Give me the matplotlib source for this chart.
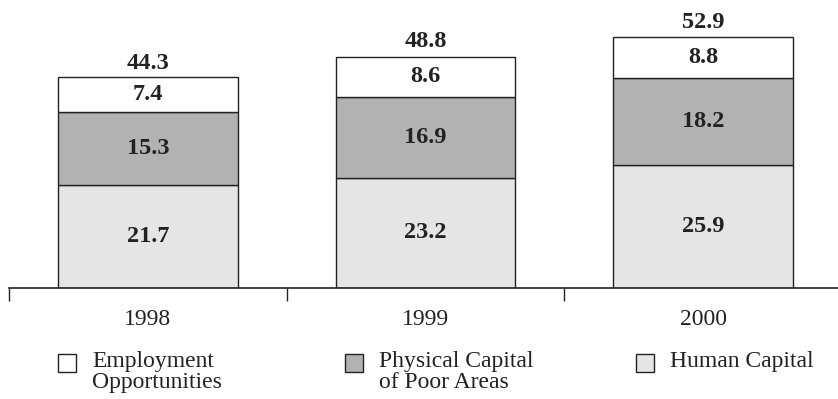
import numpy as np
import matplotlib.pyplot as plt
from matplotlib.patches import Rectangle

plt.rcParams['font.family'] = ['Liberation Serif', 'DejaVu Serif']

years = ['1998', '1999', '2000']
human = [21.7, 23.2, 25.9]
physical = [15.3, 16.9, 18.2]
employment = [7.4, 8.6, 8.8]
totals = [44.3, 48.8, 52.9]

series_names = ['Employment\nOpportunities', 'Physical Capital\nof Poor Areas', 'Human Capital']
colors = ['#ffffff', '#b2b2b2', '#e5e5e5']

fig = plt.figure(figsize=(8.38, 3.99), dpi=100)
ax = fig.add_axes([9 / 838, 111 / 399, 833 / 838, 288 / 399])

x = np.arange(len(years))
w = 0.648
human = np.array(human)
physical = np.array(physical)
employment = np.array(employment)

ax.bar(x, human, w, color=colors[2], edgecolor='#222222', linewidth=1)
ax.bar(x, physical, w, bottom=human, color=colors[1], edgecolor='#222222', linewidth=1)
ax.bar(x, employment, w, bottom=human + physical, color=colors[0], edgecolor='#222222', linewidth=1)

lab = dict(ha='center', va='center', fontsize=17.5, fontweight='bold', color='#222222')
for i in range(len(years)):
    ax.text(x[i], human[i] / 2, f'{human[i]:.1f}', **lab)
    ax.text(x[i], human[i] + physical[i] / 2, f'{physical[i]:.1f}', **lab)
    ax.text(x[i], human[i] + physical[i] + employment[i] / 2, f'{employment[i]:.1f}', **lab)
    ax.text(x[i], totals[i] + 3.0, f'{totals[i]:.1f}', **lab)

ax.set_xlim(-0.5, 2.5)
ax.set_ylim(0, 60.6)
for s in ['top', 'left', 'right']:
    ax.spines[s].set_visible(False)
ax.spines['bottom'].set_linewidth(1.2)
ax.spines['bottom'].set_color('#222222')
ax.set_yticks([])
ax.set_xticks([-0.5, 0.5, 1.5, 2.5])
ax.set_xticklabels([])
ax.tick_params(axis='x', which='major', direction='out', length=9, width=1, color='#222222')
ax.set_xticks(x, minor=True)
ax.set_xticklabels(years, minor=True, fontsize=17, color='#222222')
ax.tick_params(axis='x', which='minor', length=0, pad=15)

# legend drawn by hand along the bottom
leg_x = [58, 345, 636]
for i, name in enumerate(series_names):
    fc = colors[i]
    fig.patches.append(Rectangle((leg_x[i] / 838, (399 - 372) / 399), 18 / 838, 18 / 399,
                                 transform=fig.transFigure, facecolor=fc,
                                 edgecolor='#222222', linewidth=1))
    fig.text((leg_x[i] + 34) / 838, (399 - 351) / 399, name, ha='left', va='top',
             fontsize=17, color='#222222', linespacing=1.0)

fig.savefig('out.png', dpi=100)
